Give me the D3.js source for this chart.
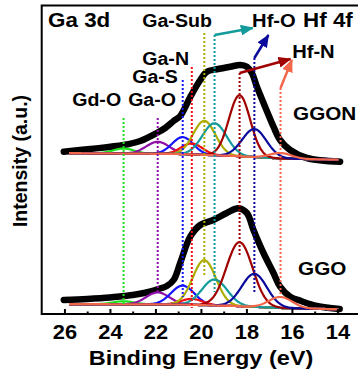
<!DOCTYPE html>
<html>
<head>
<meta charset="utf-8">
<script src="https://cdn.jsdelivr.net/npm/d3@7"></script>
<style>
  html, body { margin: 0; padding: 0; background: #fff; }
  svg { display: block; font-family: "Liberation Sans", Arial, sans-serif; font-weight: bold; }
</style>
</head>
<body>
<div id="chart"></div>
<script>
// x axis ticks (binding energy, eV)
var majorTicks = [26, 24, 22, 20, 18, 16, 14];
var minorTicks = [25, 23, 21, 19, 17, 15];

// fitted components, shared peak positions
var componentNames = ["Gd-O", "Ga-O", "Ga-S", "Ga-N", "Ga-Sub", "Hf-O", "Hf-N", "Hf-O", "Hf-N"];
var componentCenters = [23.4, 21.9, 20.8, 20.4, 19.85, 19.4, 18.3, 17.65, 16.5];
var componentColors = ["#1fe01f", "#8e0fa6", "#1414ff", "#f01010", "#adad00", "#139a9a", "#a00000", "#0a0a9c", "#f2674a"];

// GGON (upper spectrum) fit
var ggonHeights = [5, 12, 17, 11, 34, 32, 61, 28, 5.5];
var ggonFwhm = [1.1, 1.2, 1.1, 1.1, 1.15, 1.25, 1.1, 1.25, 1.1];
var ggonBgEnergy = [26.5, 21, 18.5, 16.5, 13.5];
var ggonBgLevel = [161, 160, 158, 155.5, 154];
// GGON measured data (a.u.)
var ggonEnergy = [26.03, 24.87, 23.4, 22.67, 21.94, 21.57, 21.2, 20.91, 20.47, 20.03, 19.74, 19.3, 18.71, 18.27, 17.98, 17.76, 17.54, 17.18, 16.81, 16.52, 16.08, 15.34, 13.88];
var ggonCounts = [162.3, 165, 169, 173, 181, 186, 193, 198, 217, 234, 242.3, 244.7, 247.3, 249, 247.3, 241, 227.3, 207.3, 187.3, 174, 164, 156, 152.3];

// GGO (lower spectrum) fit
var ggoHeights = [3, 12, 19, 6, 45, 26, 64, 33, 11];
var ggoFwhm = [1.1, 1.2, 1.2, 1.1, 1.2, 1.3, 1.35, 1.3, 1.2];
var ggoBgEnergy = [26.5, 21, 18.5, 16.5, 13.5];
var ggoBgLevel = [10, 9.5, 8, 6, 4.5];
// GGO measured data (a.u.)
var ggoEnergy = [26.03, 25.0, 24.0, 23.4, 23.0, 22.5, 22.0, 21.5, 21.2, 20.91, 20.47, 20.03, 19.46, 18.86, 18.35, 17.98, 17.69, 17.25, 16.81, 16.52, 16.08, 15.6, 14.9, 13.9];
var ggoCounts = [14, 15, 16.5, 18, 19, 21, 24, 28, 34, 51, 77.3, 89, 94, 101, 105.7, 101, 84, 61, 41, 27.3, 17.3, 13, 8, 5];

var W = 358, H = 375;
var plot = { left: 41.7, top: 5.5, right: 359, bottom: 314 };
var sx = 1.12; // glyphs in the figure are slightly stretched horizontally

var svg = d3.select("#chart").append("svg")
  .attr("width", W).attr("height", H);

var x = d3.scaleLinear().domain([27, 13.05]).range([plot.left, plot.right]);
var y = d3.scaleLinear().domain([0, 308.5]).range([plot.bottom, plot.top]);

svg.append("clipPath").attr("id", "plotclip")
  .append("rect").attr("x", plot.left).attr("y", plot.top)
  .attr("width", plot.right - plot.left).attr("height", plot.bottom - plot.top);

var body = svg.append("g").attr("clip-path", "url(#plotclip)");

function gauss(e, c, h, fwhm) {
  var s = fwhm / 2.3548;
  return h * Math.exp(-(e - c) * (e - c) / (2 * s * s));
}

var sampleE = d3.range(25.8, 13.95, -0.04);

function drawSpectrum(energy, counts, heights, fwhm, bgE, bgL) {
  // measured points: thick black band
  body.append("path")
    .datum(d3.zip(energy, counts))
    .attr("fill", "none")
    .attr("stroke", "#000")
    .attr("stroke-width", 6.5)
    .attr("stroke-linejoin", "round")
    .attr("stroke-linecap", "round")
    .attr("d", d3.line().curve(d3.curveCatmullRom)
      .x(function(d) { return x(d[0]); })
      .y(function(d) { return y(d[1]); }));

  var bg = d3.scaleLinear().domain(bgE).range(bgL);

  componentCenters.forEach(function(c, i) {
    body.append("path")
      .datum(sampleE)
      .attr("fill", "none")
      .attr("stroke", componentColors[i])
      .attr("stroke-width", 2.2)
      .attr("d", d3.line()
        .x(function(e) { return x(e); })
        .y(function(e) { return y(bg(e) + gauss(e, c, heights[i], fwhm[i])); }));
  });
}

drawSpectrum(ggonEnergy, ggonCounts, ggonHeights, ggonFwhm, ggonBgEnergy, ggonBgLevel);
drawSpectrum(ggoEnergy, ggoCounts, ggoHeights, ggoFwhm, ggoBgEnergy, ggoBgLevel);

// dotted guide lines at each component position (top / bottom in a.u.)
var guideTop = [196, 196, 234, 247, 281, 279, 241, 256, 226];
var guideBottom = [8, 22, 17, 6, 39, 22, 59, 22, 17];
componentCenters.forEach(function(c, i) {
  body.append("line")
    .attr("x1", x(c)).attr("x2", x(c))
    .attr("y1", y(guideTop[i])).attr("y2", y(guideBottom[i]))
    .attr("stroke", componentColors[i])
    .attr("stroke-width", 2)
    .attr("stroke-dasharray", "2,2");
});

// arrows from guide tops to the Hf labels
var defs = svg.append("defs");
var arrows = [
  { i: 5, e2: 17.72, h2: 286 },
  { i: 7, e2: 17.03, h2: 279 },
  { i: 6, e2: 16.06, h2: 255 },
  { i: 8, e2: 16.0, h2: 254 }
];
arrows.forEach(function(a, k) {
  var col = componentColors[a.i];
  defs.append("marker")
    .attr("id", "ah" + k)
    .attr("markerUnits", "userSpaceOnUse")
    .attr("markerWidth", 13).attr("markerHeight", 11)
    .attr("refX", 12).attr("refY", 5.5)
    .attr("orient", "auto")
    .append("path").attr("d", "M0,0 L13,5.5 L0,11 Z").attr("fill", col);
  svg.append("line")
    .attr("x1", x(componentCenters[a.i])).attr("y1", y(guideTop[a.i]))
    .attr("x2", x(a.e2)).attr("y2", y(a.h2))
    .attr("stroke", col)
    .attr("stroke-width", 2.5)
    .attr("marker-end", "url(#ah" + k + ")");
});

// frame
svg.append("rect")
  .attr("x", plot.left).attr("y", plot.top)
  .attr("width", plot.right - plot.left).attr("height", plot.bottom - plot.top)
  .attr("fill", "none").attr("stroke", "#000").attr("stroke-width", 2);

// x axis: inward ticks
var xAxis = svg.append("g")
  .attr("transform", "translate(0," + plot.bottom + ")")
  .call(d3.axisBottom(x).tickValues(majorTicks).tickSizeInner(-5).tickSizeOuter(0).tickPadding(11));
xAxis.select(".domain").remove();
xAxis.selectAll("line").attr("stroke-width", 2);
xAxis.selectAll("text")
  .attr("font-size", 19.5)
  .attr("font-family", "Liberation Sans, Arial, sans-serif")
  .attr("font-weight", "bold")
  .attr("fill", "#000")
  .attr("transform", "scale(" + sx + ",1)");

var xMinor = svg.append("g")
  .attr("transform", "translate(0," + plot.bottom + ")")
  .call(d3.axisBottom(x).tickValues(minorTicks).tickSize(-2.5).tickFormat(""));
xMinor.select(".domain").remove();
xMinor.selectAll("line").attr("stroke-width", 2);

// axis titles
svg.append("text")
  .attr("transform", "translate(201,365) scale(" + sx + ",1)")
  .attr("text-anchor", "middle")
  .attr("font-size", 21)
  .text("Binding Energy (eV)");

svg.append("text")
  .attr("transform", "translate(27,161) rotate(-90)")
  .attr("text-anchor", "middle")
  .attr("font-size", 19.5)
  .text("Intensity (a.u.)");

// in-plot labels (anchored in data units)
var labels = [
  { t: "Ga 3d", e: 26.72, h: 287, s: 20 },
  { t: "Ga-Sub", e: 22.58, h: 287, s: 17.5 },
  { t: "Hf-O", e: 17.75, h: 287, s: 18 },
  { t: "Hf 4f", e: 15.51, h: 287, s: 20 },
  { t: "Hf-N", e: 15.99, h: 256, s: 18 },
  { t: "Ga-N", e: 22.58, h: 249, s: 17.5 },
  { t: "Ga-S", e: 23.02, h: 231, s: 17.5 },
  { t: "Ga-O", e: 23.2, h: 208, s: 17.5 },
  { t: "Gd-O", e: 25.66, h: 208, s: 17.5 },
  { t: "GGON", e: 15.95, h: 194, s: 18.5 },
  { t: "GGO", e: 15.73, h: 39, s: 18.5 }
];
labels.forEach(function(l) {
  svg.append("text")
    .attr("transform", "translate(" + x(l.e) + "," + y(l.h) + ") scale(" + sx + ",1)")
    .attr("font-size", l.s)
    .attr("fill", "#000")
    .text(l.t);
});
</script>
</body>
</html>
